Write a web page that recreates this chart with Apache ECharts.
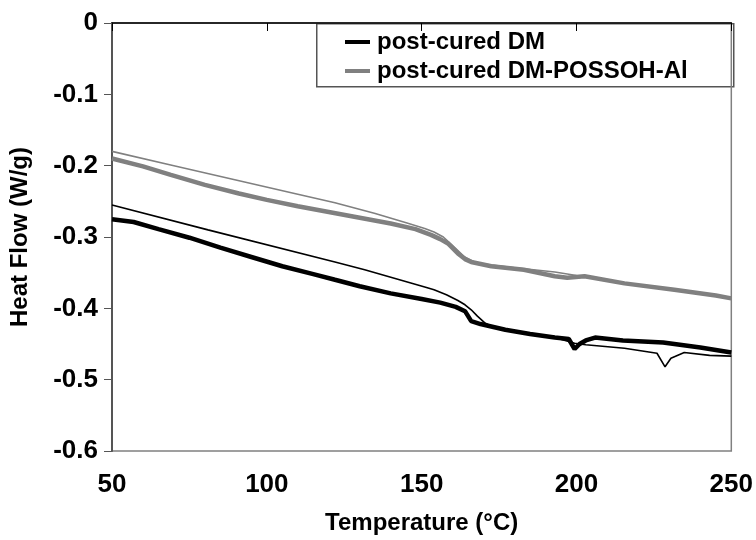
<!DOCTYPE html>
<html>
<head>
<meta charset="utf-8">
<script src="https://cdn.jsdelivr.net/npm/echarts@6/dist/echarts.min.js"></script>
<style>
html,body{margin:0;padding:0;background:#fff;}
#chart{width:756px;height:540px;}
</style>
</head>
<body>
<div id="chart"></div>
<script>
// 数据
var dmTemp=[50,57,65,75,85,95,105,115,122,130,140,150,156,161,164,166,169,177,185,193,197.5,199.4,201,203,206,215,228,240,250];
var dmFlow=[-0.275,-0.279,-0.289,-0.301,-0.315,-0.328,-0.341,-0.352,-0.360,-0.369,-0.379,-0.387,-0.392,-0.398,-0.404,-0.418,-0.422,-0.430,-0.436,-0.441,-0.443,-0.457,-0.450,-0.445,-0.441,-0.445,-0.448,-0.455,-0.462];
var dmScanTemp=[50,81,122,131.6,151,154,158,161.7,164,166,168,170.3,172,177,185,193,199.4,203,215.5,226,228.6,230.5,234.8,243,250];
var dmScanFlow=[-0.255,-0.290,-0.335,-0.346,-0.370,-0.374,-0.381,-0.389,-0.395,-0.402,-0.411,-0.420,-0.424,-0.430,-0.436,-0.441,-0.449,-0.451,-0.456,-0.463,-0.482,-0.470,-0.462,-0.466,-0.467];
var posTemp=[50,60,69,80,91,100,110,120,130,140,148,153,156,158.5,161.7,164,166,172.5,183,193,197,202.6,215.5,231.6,245,250];
var posFlow=[-0.190,-0.201,-0.213,-0.227,-0.239,-0.248,-0.257,-0.265,-0.273,-0.281,-0.289,-0.297,-0.303,-0.309,-0.323,-0.331,-0.335,-0.341,-0.346,-0.355,-0.357,-0.355,-0.365,-0.374,-0.382,-0.386];
var posScanTemp=[50,70,90,110,122,135,145,151,154,157,160,163.9,168,180,193,200,202.6,215.5,231.6,250];
var posScanFlow=[-0.180,-0.200,-0.220,-0.240,-0.252,-0.267,-0.280,-0.288,-0.293,-0.300,-0.312,-0.328,-0.337,-0.343,-0.349,-0.354,-0.355,-0.365,-0.374,-0.386];
var legendNames=['post-cured DM','post-cured DM-POSSOH-Al'];

function pairs(xs,ys){
	var out=[];
	for(var i=0;i<xs.length;i++){ out.push([xs[i],ys[i]]); }
	return out;
}

var font='"Liberation Sans", Arial, sans-serif';
var chart=echarts.init(document.getElementById('chart'),null,{renderer:'canvas'});
var option={
	backgroundColor:'#fff',
	animation:false,
	grid:{left:112,right:24,top:23,bottom:88,show:true,borderColor:'#808080',borderWidth:1.5},
	legend:{
		data:legendNames,
		orient:'vertical',
		left:345,
		top:30,
		padding:0,
		itemGap:5,
		itemWidth:25,
		itemHeight:4,
		icon:'rect',
		textStyle:{fontFamily:font,fontWeight:'bold',fontSize:24,lineHeight:24,color:'#000',padding:[0,0,0,2]}
	},
	graphic:[{
		type:'rect',
		left:316,top:23,z:-1,
		shape:{width:417,height:63},
		style:{fill:'#fff',stroke:'#555',lineWidth:1.5}
	}],
	xAxis:{
		type:'value',
		min:50,max:250,interval:50,
		name:'Temperature (°C)',
		nameLocation:'middle',
		nameGap:60,
		nameTextStyle:{fontFamily:font,fontWeight:'bold',fontSize:24,color:'#000'},
		axisLine:{lineStyle:{color:'#000',width:1.5}},
		axisTick:{inside:false,length:8,lineStyle:{color:'#000'}},
		axisLabel:{fontFamily:font,fontWeight:'bold',fontSize:26,color:'#000',margin:21},
		splitLine:{show:false}
	},
	yAxis:{
		type:'value',
		min:-0.6,max:0,interval:0.1,
		name:'Heat Flow (W/g)',
		nameLocation:'middle',
		nameGap:80,
		nameTextStyle:{fontFamily:font,fontWeight:'bold',fontSize:24,color:'#000'},
		axisLine:{show:true,lineStyle:{color:'#555',width:2}},
		axisTick:{show:true,inside:false,length:8,lineStyle:{color:'#555'}},
		axisLabel:{fontFamily:font,fontWeight:'bold',fontSize:26,color:'#000',margin:14,
			formatter:function(v){ return String(parseFloat(v.toFixed(1))); }},
		splitLine:{show:false}
	},
	series:[
		{name:'post-cured DM (scan)',type:'line',data:pairs(dmScanTemp,dmScanFlow),showSymbol:false,
			lineStyle:{color:'#000',width:1.6},itemStyle:{color:'#000'}},
		{name:'post-cured DM-POSSOH-Al (scan)',type:'line',data:pairs(posScanTemp,posScanFlow),showSymbol:false,
			lineStyle:{color:'#808080',width:1.6},itemStyle:{color:'#808080'}},
		{name:legendNames[0],type:'line',data:pairs(dmTemp,dmFlow),showSymbol:false,
			lineStyle:{color:'#000',width:4.5},itemStyle:{color:'#000'}},
		{name:legendNames[1],type:'line',data:pairs(posTemp,posFlow),showSymbol:false,
			lineStyle:{color:'#808080',width:4.5},itemStyle:{color:'#808080'}}
	]
};
chart.setOption(option);
</script>
</body>
</html>
